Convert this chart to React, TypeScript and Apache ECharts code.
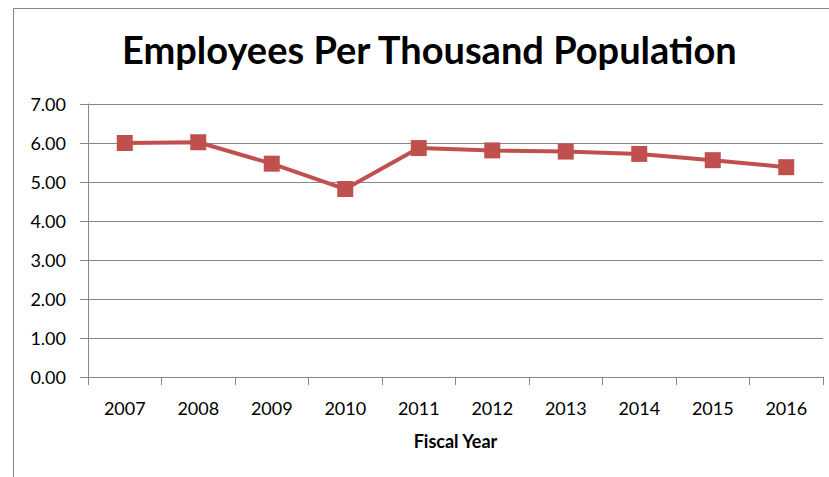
import React, { useEffect, useRef } from "react";
import * as echarts from "echarts";

const years = ["2007", "2008", "2009", "2010", "2011", "2012", "2013", "2014", "2015", "2016"];
const employeesPerThousand = [6.0, 6.02, 5.47, 4.82, 5.87, 5.81, 5.78, 5.72, 5.56, 5.38];
const titleText = "Employees Per Thousand Population";
const xAxisName = "Fiscal Year";

export default function App() {
  const ref = useRef<HTMLDivElement>(null);
  useEffect(() => {
    document.body.style.margin = "0";
    const chart = echarts.init(ref.current!, null, { renderer: "svg" });
    const font = "Lato, 'Open Sans', sans-serif";
    chart.setOption({
      animation: false,
      backgroundColor: "#ffffff",
      textStyle: { fontFamily: font },
      title: {
        text: titleText,
        left: 117,
        top: 25,
        textStyle: { fontFamily: font, fontWeight: "bold", fontSize: 38, color: "#000" },
      },
      graphic: [
        {
          type: "rect",
          shape: { x: 13.5, y: 8.5, width: 1000, height: 1000 },
          style: { fill: "none", stroke: "#868686", lineWidth: 1 },
          silent: true,
        },
      ],
      grid: { left: 88, right: 6, top: 104, bottom: 100, containLabel: false },
      xAxis: {
        type: "category",
        data: years,
        boundaryGap: true,
        name: xAxisName,
        nameLocation: "middle",
        nameGap: 55,
        nameTextStyle: { fontFamily: font, fontWeight: "bold", fontSize: 18, color: "#000" },
        axisLine: { show: true, lineStyle: { color: "#878787", width: 1 } },
        axisTick: { show: true, length: 8, alignWithLabel: false, lineStyle: { color: "#878787" } },
        axisLabel: { fontFamily: font, fontSize: 18, color: "#000", margin: 22 },
        splitLine: { show: false },
      },
      yAxis: {
        type: "value",
        min: 0,
        max: 7,
        interval: 1,
        axisLine: { show: true, lineStyle: { color: "#878787", width: 1 } },
        axisTick: { show: true, length: 8, lineStyle: { color: "#878787" } },
        axisLabel: {
          fontFamily: font,
          fontSize: 18,
          color: "#000",
          margin: 22,
          formatter: (v: number) => v.toFixed(2),
        },
        splitLine: { show: true, lineStyle: { color: "#878787", width: 1 } },
      },
      series: [
        {
          type: "line",
          data: employeesPerThousand,
          symbol: "rect",
          symbolSize: 16,
          lineStyle: { color: "#C0504D", width: 4 },
          itemStyle: { color: "#C0504D" },
        },
      ],
    });
    return () => chart.dispose();
  }, []);
  return <div ref={ref} style={{ width: 829, height: 477 }} />;
}
